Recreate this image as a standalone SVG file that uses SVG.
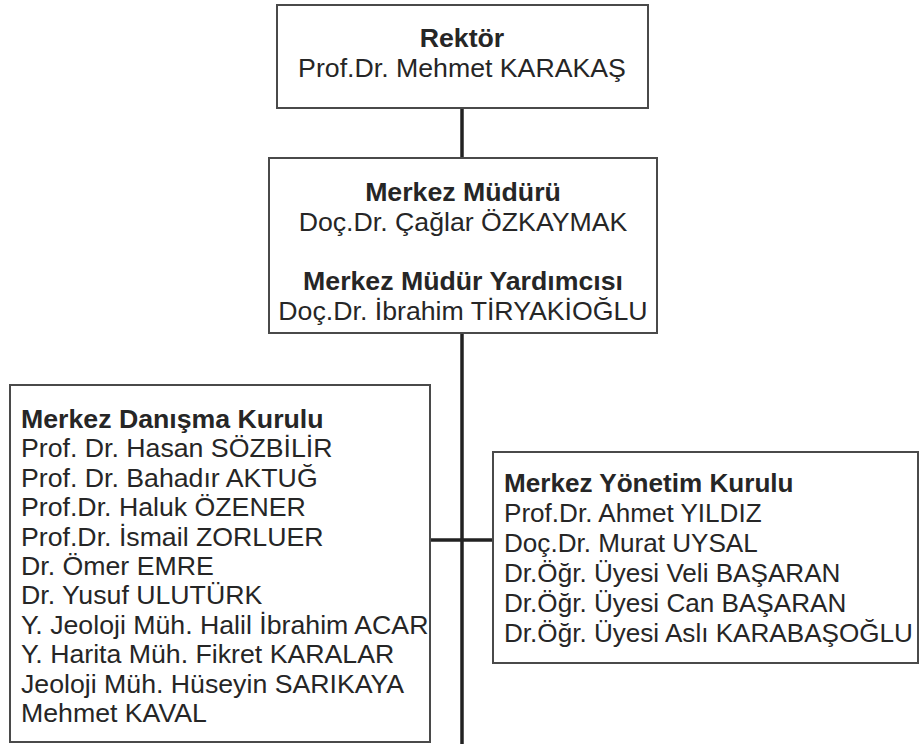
<svg xmlns="http://www.w3.org/2000/svg" width="920" height="744" viewBox="0 0 920 744">
<style>
.box{fill:#fff;stroke:#4a4a4a;stroke-width:2}
.t{font-family:"Liberation Sans",Arial,sans-serif;font-size:26.7px;fill:#262626}
.y{font-size:26.1px}
.b{font-weight:bold}
.c{text-anchor:middle}
.ln{stroke:#222;stroke-width:3.5;fill:none}
</style>
<rect width="920" height="744" fill="#fff"/>
<g id="connectors">
<line class="ln" x1="462" y1="108" x2="462" y2="158"/>
<line class="ln" x1="462" y1="333" x2="462" y2="744"/>
<line class="ln" x1="430" y1="540" x2="493" y2="540"/>
</g>
<g id="rektor">
<rect class="box" x="277" y="5" width="371" height="103"/>
<text class="t b c" x="462" y="47">Rektör</text>
<text class="t c" x="462" y="77">Prof.Dr. Mehmet KARAKAŞ</text>
</g>
<g id="mudur">
<rect class="box" x="269" y="158" width="388" height="175"/>
<text class="t b c" x="463" y="201">Merkez Müdürü</text>
<text class="t c" x="463" y="231">Doç.Dr. Çağlar ÖZKAYMAK</text>
<text class="t b c" x="463" y="290">Merkez Müdür Yardımcısı</text>
<text class="t c" x="463" y="320">Doç.Dr. İbrahim TİRYAKİOĞLU</text>
</g>
<g id="danisma">
<rect class="box" x="10" y="385" width="420" height="357"/>
<text class="t b" x="21" y="428">Merkez Danışma Kurulu</text>
<text class="t" x="21" y="457.4">Prof. Dr. Hasan SÖZBİLİR</text>
<text class="t" x="21" y="486.8">Prof. Dr. Bahadır AKTUĞ</text>
<text class="t" x="21" y="516.2">Prof.Dr. Haluk ÖZENER</text>
<text class="t" x="21" y="545.6">Prof.Dr. İsmail ZORLUER</text>
<text class="t" x="21" y="575">Dr. Ömer EMRE</text>
<text class="t" x="21" y="604.4">Dr. Yusuf ULUTÜRK</text>
<text class="t" x="21" y="633.8">Y. Jeoloji Müh. Halil İbrahim ACAR</text>
<text class="t" x="21" y="663.2">Y. Harita Müh. Fikret KARALAR</text>
<text class="t" x="21" y="692.6">Jeoloji Müh. Hüseyin SARIKAYA</text>
<text class="t" x="21" y="722">Mehmet KAVAL</text>
</g>
<g id="yonetim">
<rect class="box" x="493" y="452" width="425" height="211"/>
<text class="t y b" x="504" y="492">Merkez Yönetim Kurulu</text>
<text class="t y" x="504" y="522">Prof.Dr. Ahmet YILDIZ</text>
<text class="t y" x="504" y="552">Doç.Dr. Murat UYSAL</text>
<text class="t y" x="504" y="582">Dr.Öğr. Üyesi Veli BAŞARAN</text>
<text class="t y" x="504" y="612">Dr.Öğr. Üyesi Can BAŞARAN</text>
<text class="t y" x="504" y="642">Dr.Öğr. Üyesi Aslı KARABAŞOĞLU</text>
</g>
</svg>
